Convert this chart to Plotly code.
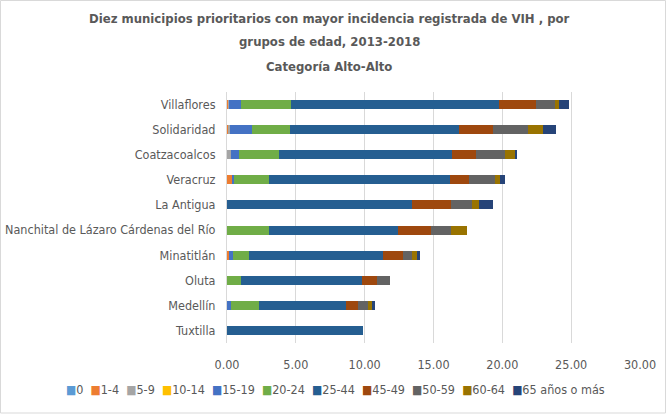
import plotly.graph_objects as go

municipios = ["Villaflores", "Solidaridad", "Coatzacoalcos", "Veracruz", "La Antigua",
              "Nanchital de Lázaro Cárdenas del Río", "Minatitlán", "Oluta", "Medellín", "Tuxtilla"]

grupos = ["0", "1-4", "5-9", "10-14", "15-19", "20-24", "25-44", "45-49", "50-59", "60-64", "65 años o más"]

v_0     = [0.00, 0.00, 0.00, 0.00, 0.00, 0.00, 0.00, 0.00, 0.00, 0.00]
v_1_4   = [0.12, 0.10, 0.00, 0.36, 0.00, 0.00, 0.12, 0.00, 0.00, 0.00]
v_5_9   = [0.05, 0.14, 0.29, 0.00, 0.00, 0.00, 0.00, 0.00, 0.00, 0.00]
v_10_14 = [0.00, 0.00, 0.00, 0.00, 0.00, 0.00, 0.00, 0.00, 0.00, 0.00]
v_15_19 = [0.85, 1.58, 0.56, 0.17, 0.00, 0.00, 0.34, 0.00, 0.29, 0.00]
v_20_24 = [3.63, 2.76, 2.91, 2.55, 0.00, 3.03, 1.12, 1.04, 2.01, 0.00]
v_25_44 = [15.11, 12.29, 12.58, 13.12, 13.41, 9.37, 9.72, 8.78, 6.38, 9.87]
v_45_49 = [2.71, 2.43, 1.77, 1.35, 2.84, 2.43, 1.48, 1.09, 0.87, 0.00]
v_50_59 = [1.33, 2.57, 2.11, 1.94, 1.55, 1.42, 0.65, 0.92, 0.68, 0.00]
v_60_64 = [0.32, 1.09, 0.68, 0.36, 0.48, 1.18, 0.37, 0.00, 0.29, 0.00]
v_65    = [0.70, 0.94, 0.17, 0.32, 1.04, 0.00, 0.24, 0.00, 0.22, 0.00]

series = [v_0, v_1_4, v_5_9, v_10_14, v_15_19, v_20_24, v_25_44, v_45_49, v_50_59, v_60_64, v_65]
colores = ["#5B9BD5", "#ED7D31", "#A5A5A5", "#FFC000", "#4472C4", "#70AD47",
           "#255E91", "#9E480E", "#636363", "#997300", "#264478"]

titulo = ["Diez municipios prioritarios con mayor incidencia registrada de VIH , por",
          "grupos de edad, 2013-2018",
          "Categoría Alto-Alto"]

FONT = "DejaVu Sans Condensed, Liberation Sans Narrow, Arial"
W, H = 666, 415
plot_l, plot_r, plot_t, plot_b = 227, 26, 92, 72
pw = W - plot_l - plot_r
ph = H - plot_t - plot_b


def px_to_paper_x(px):
    return (px - plot_l) / pw


def px_to_paper_y(py):
    return (H - plot_b - py) / ph


fig = go.Figure()
for name, vals, col in zip(grupos, series, colores):
    fig.add_trace(go.Bar(y=municipios, x=vals, name=name, orientation="h",
                         marker=dict(color=col, line=dict(width=0)), showlegend=False))

# Title lines
for line, ty in zip(titulo, [18, 42, 66]):
    fig.add_annotation(text="<b>" + line + "</b>", xref="paper", yref="paper",
                       x=px_to_paper_x(329), y=px_to_paper_y(ty), showarrow=False,
                       xanchor="center", yanchor="middle",
                       font=dict(size=13, color="#595959", family=FONT))

# Legend as one text line with coloured squares
legend_txt = "&nbsp;&nbsp;".join(
    "<span style='color:%s;font-size:12px'>■</span>%s" % (c, g) for g, c in zip(grupos, colores))
fig.add_annotation(text=legend_txt, xref="paper", yref="paper",
                   x=px_to_paper_x(335), y=px_to_paper_y(389), showarrow=False,
                   xanchor="center", yanchor="middle",
                   font=dict(size=12.5, color="#595959", family=FONT))

# outer frame of the chart area
fig.add_shape(type="rect", xref="paper", yref="paper",
              x0=px_to_paper_x(0.5), x1=px_to_paper_x(W - 0.5),
              y0=px_to_paper_y(H - 2), y1=px_to_paper_y(0.5),
              line=dict(color="#D9D9D9", width=1), layer="below")

fig.update_layout(
    barmode="stack",
    bargap=0.64,
    width=W, height=H,
    paper_bgcolor="white", plot_bgcolor="white",
    margin=dict(l=plot_l, r=plot_r, t=plot_t, b=plot_b, autoexpand=False),
    font=dict(family=FONT, color="#595959", size=12),
    showlegend=False,
    xaxis=dict(range=[0, 30], dtick=5, tickformat=".2f", showgrid=True, gridcolor="#D9D9D9",
               zeroline=False, showline=False, ticks="", automargin=False,
               tickfont=dict(size=12.5, color="#595959"), ticklabelstandoff=12),
    yaxis=dict(autorange="reversed", showgrid=False, ticks="", showline=True,
               linecolor="#D9D9D9", linewidth=1, automargin=False,
               tickfont=dict(size=12.5, color="#595959"), ticklabelstandoff=8),
)

fig.write_html("out.html", config={"displayModeBar": False},
               post_script="document.body.style.margin='0';document.body.style.overflow='hidden';")
